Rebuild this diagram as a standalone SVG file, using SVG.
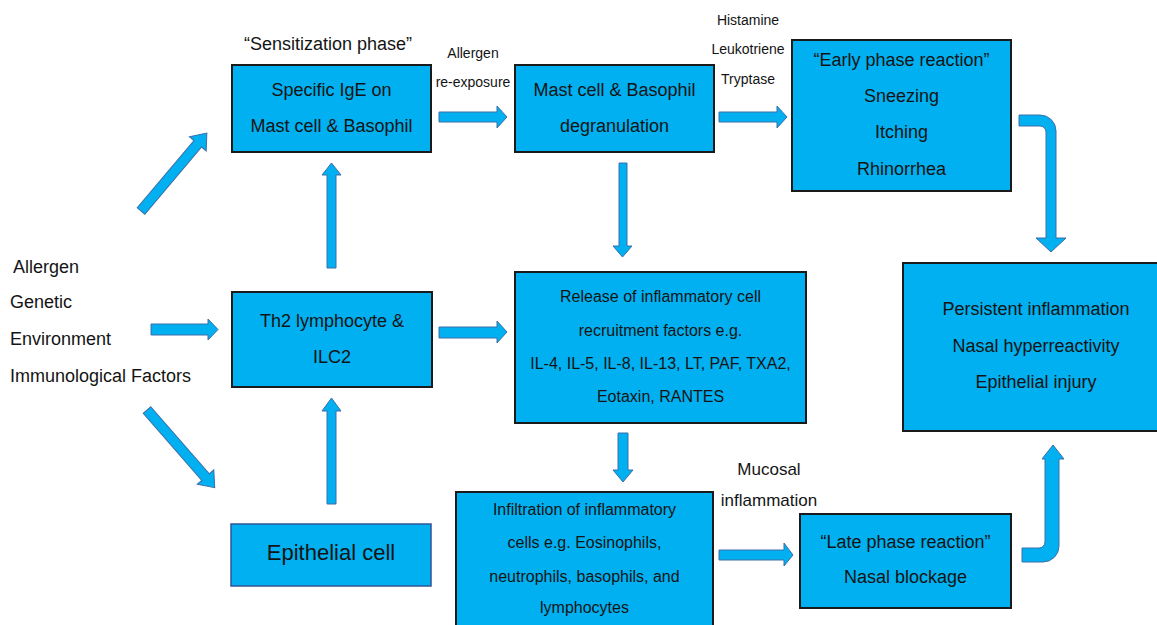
<svg xmlns="http://www.w3.org/2000/svg" width="1157" height="625" viewBox="0 0 1157 625">
<style>
  .box { fill: #00B0F0; stroke: #1a1a1a; stroke-width: 2; }
  .box2 { fill: #00B0F0; stroke: #2F5597; stroke-width: 1.5; }
  .arr { fill: #00B0F0; stroke: #3C6EA8; stroke-width: 1; stroke-linejoin: miter; }
  text { font-family: "Liberation Sans", Arial, sans-serif; fill: #141414; }
  .t18 { font-size: 18px; text-anchor: middle; }
  .t16 { font-size: 16px; text-anchor: middle; }
  .t14 { font-size: 14px; text-anchor: middle; }
  .left { font-size: 18px; }
</style>
<rect width="1157" height="625" fill="#ffffff"/>

<g id="connectors">
  <polygon class="arr" points="439,112 497,112 497,106 507,117 497,128 497,122 439,122"/>
  <polygon class="arr" points="719,112 777,112 777,106 787,117 777,128 777,122 719,122"/>
  <polygon class="arr" points="151,324 208,324 208,319 218,329.5 208,340 208,335 151,335"/>
  <polygon class="arr" points="439,327 497,327 497,321 507,332 497,343 497,338 439,338"/>
  <polygon class="arr" points="719,550 784,550 784,543 793,555 784,566 784,560 719,560"/>
  <polygon class="arr" points="327,268 327,175 322,175 331.5,163 341,175 336,175 336,268"/>
  <polygon class="arr" points="327,504 327,411 322,411 331.5,398 341,411 336,411 336,504"/>
  <polygon class="arr" points="619,163 619,246 613,246 622.5,257 632,246 627,246 627,163"/>
  <polygon class="arr" points="618,433 618,470 613,470 623,482 633,470 628,470 628,433"/>
  <g transform="translate(141,211) rotate(-49.8)">
    <polygon class="arr" points="0,-5 88,-5 88,-11 102,0 88,11 88,5 0,5"/>
  </g>
  <g transform="translate(147,410) rotate(48.9)">
    <polygon class="arr" points="0,-5 89,-5 89,-11 103,0 89,11 89,5 0,5"/>
  </g>
  <path class="arr" d="M1019,115 L1040,115 A16,16 0 0 1 1056,131 L1056,238 L1066,238 L1051,252 L1036,238 L1046,238 L1046,132 A6,6 0 0 0 1040,126 L1019,126 Z"/>
  <path class="arr" d="M1022,548 L1039,548 A6,6 0 0 0 1045,542 L1045,459 L1042,459 L1053,445 L1064,459 L1059,459 L1059,546 A16,16 0 0 1 1043,562 L1022,562 Z"/>
</g>

<g id="labels">
  <text class="t18" x="328" y="50">“Sensitization phase”</text>
  <text class="t14" x="473" y="58">Allergen</text>
  <text class="t14" x="473" y="87">re-exposure</text>
  <text class="t14" x="748" y="25">Histamine</text>
  <text class="t14" x="748" y="54">Leukotriene</text>
  <text class="t14" x="748" y="84">Tryptase</text>
  <text x="769" y="475" style="font-size:17px;text-anchor:middle">Mucosal</text>
  <text x="769" y="506" style="font-size:17px;text-anchor:middle">inflammation</text>
</g>

<g id="factors">
  <text class="left" x="13" y="273">Allergen</text>
  <text class="left" x="10" y="308">Genetic</text>
  <text class="left" x="10" y="345">Environment</text>
  <text class="left" x="10" y="382">Immunological Factors</text>
</g>

<g id="node-ige">
  <rect class="box" x="232" y="65" width="199" height="87"/>
  <text class="t18" x="331.5" y="96">Specific IgE on</text>
  <text class="t18" x="331.5" y="132">Mast cell &amp; Basophil</text>
</g>

<g id="node-mast">
  <rect class="box" x="515" y="65" width="199" height="87"/>
  <text class="t18" x="614.5" y="96">Mast cell &amp; Basophil</text>
  <text class="t18" x="614.5" y="132">degranulation</text>
</g>

<g id="node-early">
  <rect class="box" x="792" y="40" width="219" height="151"/>
  <text class="t18" x="901.5" y="66">“Early phase reaction”</text>
  <text class="t18" x="901.5" y="102">Sneezing</text>
  <text class="t18" x="901.5" y="138">Itching</text>
  <text class="t18" x="901.5" y="175">Rhinorrhea</text>
</g>

<g id="node-th2">
  <rect class="box" x="232" y="292" width="200" height="95"/>
  <text class="t18" x="332" y="327">Th2 lymphocyte &amp;</text>
  <text class="t18" x="332" y="363">ILC2</text>
</g>

<g id="node-release">
  <rect class="box" x="515" y="272" width="291" height="151"/>
  <text class="t16" x="660.5" y="302">Release of inflammatory cell</text>
  <text class="t16" x="660.5" y="336">recruitment factors e.g.</text>
  <text class="t16" x="660.5" y="369">IL-4, IL-5, IL-8, IL-13, LT, PAF, TXA2,</text>
  <text class="t16" x="660.5" y="402">Eotaxin, RANTES</text>
</g>

<g id="node-persistent">
  <rect class="box" x="903" y="263" width="270" height="168"/>
  <text class="t18" x="1036" y="315">Persistent inflammation</text>
  <text class="t18" x="1036" y="352">Nasal hyperreactivity</text>
  <text class="t18" x="1036" y="388">Epithelial injury</text>
</g>

<g id="node-epithelial">
  <rect class="box2" x="231" y="524" width="200" height="62"/>
  <text x="331" y="560" style="font-size:22px;text-anchor:middle">Epithelial cell</text>
</g>

<g id="node-infiltration">
  <rect class="box" x="456" y="492" width="257" height="150"/>
  <text class="t16" x="584.5" y="515">Infiltration of inflammatory</text>
  <text class="t16" x="584.5" y="548">cells e.g. Eosinophils,</text>
  <text class="t16" x="584.5" y="582">neutrophils, basophils, and</text>
  <text class="t16" x="584.5" y="613">lymphocytes</text>
</g>

<g id="node-late">
  <rect class="box" x="800" y="514" width="211" height="94"/>
  <text class="t18" x="905.5" y="548">“Late phase reaction”</text>
  <text class="t18" x="905.5" y="583">Nasal blockage</text>
</g>
</svg>
